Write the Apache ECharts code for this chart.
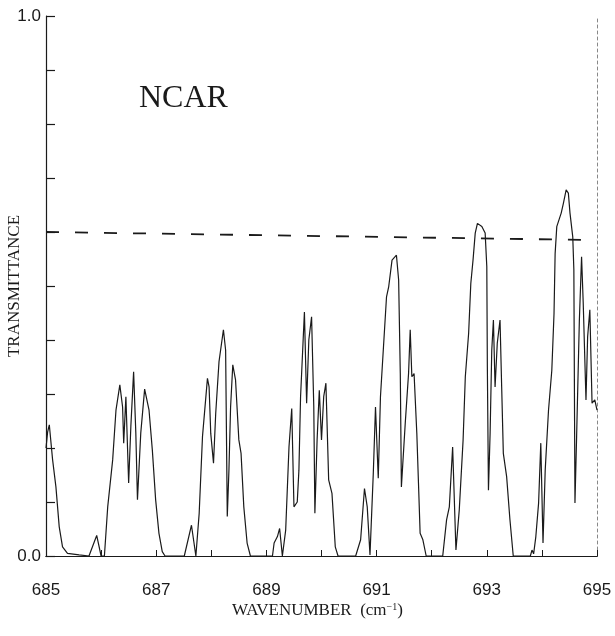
<!DOCTYPE html>
<html>
<head>
<meta charset="utf-8">
<script src="https://cdn.jsdelivr.net/npm/echarts@6/dist/echarts.min.js"></script>
<style>
  html, body { margin: 0; padding: 0; background: #fff; }
  #chart { width: 615px; height: 636px; }
</style>
</head>
<body>
<div id="chart"></div>
<script>
// wavenumber (cm-1) and transmittance
const wavenumber = [
  685.00, 685.03, 685.06, 685.12, 685.18, 685.24, 685.30, 685.39, 685.60, 685.78, 685.92, 686.00,
  686.06, 686.12, 686.21, 686.27, 686.34, 686.39, 686.41, 686.45, 686.50, 686.54, 686.59, 686.63,
  686.66, 686.72, 686.79, 686.87, 686.93, 686.99, 687.05, 687.11, 687.16, 687.51, 687.64, 687.72,
  687.74, 687.78, 687.84, 687.93, 687.96, 687.99, 688.04, 688.08, 688.14, 688.22, 688.26, 688.29,
  688.32, 688.35, 688.39, 688.44, 688.50, 688.54, 688.59, 688.65, 688.71, 689.11, 689.14, 689.20,
  689.24, 689.29, 689.35, 689.41, 689.46, 689.50, 689.56, 689.59, 689.62, 689.69, 689.73, 689.77,
  689.82, 689.86, 689.88, 689.92, 689.96, 690.00, 690.04, 690.08, 690.13, 690.19, 690.25, 690.30,
  690.62, 690.71, 690.78, 690.83, 690.88, 690.94, 690.98, 691.03, 691.07, 691.18, 691.22, 691.28,
  691.36, 691.40, 691.43, 691.45, 691.52, 691.58, 691.61, 691.64, 691.68, 691.73, 691.76, 691.79,
  691.84, 691.90, 692.20, 692.27, 692.32, 692.38, 692.44, 692.50, 692.57, 692.61, 692.67, 692.71,
  692.75, 692.79, 692.83, 692.91, 692.97, 693.00, 693.01, 693.03, 693.06, 693.09, 693.12, 693.15,
  693.19, 693.24, 693.27, 693.30, 693.36, 693.42, 693.48, 693.79, 693.82, 693.85, 693.89, 693.94,
  693.98, 694.02, 694.06, 694.12, 694.18, 694.22, 694.24, 694.27, 694.35, 694.39, 694.44, 694.48,
  694.51, 694.56, 694.58, 694.60, 694.63, 694.68, 694.72, 694.75, 694.80, 694.83, 694.87, 694.91,
  694.96, 695.00
];
const transmittance = [
  0.20, 0.23, 0.243, 0.178, 0.128, 0.054, 0.017, 0.005, 0.002, 0, 0.038, 0,
  0, 0.091, 0.178, 0.27, 0.317, 0.276, 0.209, 0.295, 0.135, 0.24, 0.341, 0.228,
  0.104, 0.228, 0.309, 0.27, 0.196, 0.104, 0.042, 0.008, 0, 0, 0.057, 0,
  0, 0.079, 0.221, 0.329, 0.313, 0.227, 0.172, 0.264, 0.36, 0.419, 0.381, 0.073,
  0.159, 0.276, 0.354, 0.326, 0.215, 0.19, 0.091, 0.024, 0, 0, 0.024, 0.036,
  0.051, 0, 0.048, 0.202, 0.273, 0.091, 0.10, 0.159, 0.295, 0.452, 0.283, 0.40,
  0.443, 0.276, 0.079, 0.215, 0.307, 0.215, 0.295, 0.32, 0.141, 0.116, 0.017, 0,
  0, 0.03, 0.125, 0.091, 0.002, 0.153, 0.276, 0.144, 0.295, 0.48, 0.499, 0.548,
  0.557, 0.511, 0.338, 0.128, 0.246, 0.338, 0.419, 0.332, 0.338, 0.227, 0.135, 0.042,
  0.03, 0, 0, 0.067, 0.091, 0.202, 0.011, 0.085, 0.215, 0.332, 0.412, 0.505,
  0.548, 0.598, 0.616, 0.61, 0.598, 0.536, 0.35, 0.122, 0.227, 0.381, 0.437, 0.313,
  0.394, 0.437, 0.313, 0.19, 0.147, 0.067, 0, 0, 0.011, 0.004, 0.036, 0.098,
  0.209, 0.024, 0.159, 0.27, 0.344, 0.449, 0.56, 0.61, 0.635, 0.653, 0.678, 0.672,
  0.635, 0.591, 0.53, 0.098, 0.221, 0.437, 0.554, 0.468, 0.289, 0.406, 0.456, 0.283,
  0.289, 0.27
];
// dashed reference level (drawn slightly tilted in the scan)
const refX = [685, 695];
const refY = [0.6, 0.585];

const ink = '#1a1a1a';
const serif = '"Liberation Serif", "DejaVu Serif", serif';
const sans = '"Liberation Sans", Arial, sans-serif';

const chart = echarts.init(document.getElementById('chart'));

chart.setOption({
  animation: false,
  backgroundColor: '#fff',
  grid: { left: 46, right: 18, top: 16, bottom: 80 },
  xAxis: [{
    type: 'value',
    min: 685,
    max: 695,
    interval: 1,
    axisLine: { show: true, lineStyle: { color: ink, width: 1.2 } },
    axisTick: { show: true, inside: true, length: 6, lineStyle: { color: ink } },
    axisLabel: {
      margin: 26,
      color: ink,
      fontFamily: sans,
      fontSize: 17,
      formatter: v => (Math.round(v) % 2 === 1 ? String(Math.round(v)) : '')
    },
    splitLine: { show: false }
  }, {
    type: 'value',
    position: 'top',
    min: 685,
    max: 695,
    axisLine: { show: true, lineStyle: { color: ink, width: 1.2 } },
    axisTick: { show: false },
    axisLabel: { show: false },
    splitLine: { show: false }
  }],
  yAxis: [{
    type: 'value',
    min: 0,
    max: 1,
    interval: 0.1,
    axisLine: { show: true, lineStyle: { color: ink, width: 1.2 } },
    axisTick: { show: true, inside: true, length: 9, lineStyle: { color: ink, width: 1.2 } },
    axisLabel: {
      margin: 5,
      color: ink,
      fontFamily: sans,
      fontSize: 17,
      formatter: v => (v === 0 || v === 1 ? v.toFixed(1) : '')
    },
    splitLine: { show: false }
  }, {
    type: 'value',
    position: 'right',
    min: 0,
    max: 1,
    axisLine: { show: true, lineStyle: { color: '#888', width: 1, type: [3, 3] } },
    axisTick: { show: false },
    axisLabel: { show: false },
    splitLine: { show: false }
  }],
  series: [{
    type: 'line',
    data: wavenumber.map((w, i) => [w, transmittance[i]]),
    showSymbol: false,
    lineStyle: { color: ink, width: 1.2 },
    z: 3
  }, {
    type: 'line',
    data: refX.map((w, i) => [w, refY[i]]),
    showSymbol: false,
    lineStyle: { color: ink, width: 1.8, type: [13, 16] },
    z: 2
  }],
  graphic: [{
    type: 'text',
    left: 139,
    top: 83,
    style: { text: 'NCAR', font: '32px ' + serif, fill: ink }
  }, {
    type: 'text',
    left: 232,
    top: 602,
    style: {
      text: 'WAVENUMBER  (cm{sup|−1})',
      font: '17px ' + serif,
      fill: ink,
      rich: { sup: { fontSize: 10, fontFamily: serif, verticalAlign: 'top', padding: [0, 0, 8, 0] } }
    }
  }, {
    type: 'text',
    x: 15,
    y: 286,
    rotation: Math.PI / 2,
    style: {
      text: 'TRANSMITTANCE',
      font: '17px ' + serif,
      fill: ink,
      align: 'center',
      verticalAlign: 'middle'
    }
  }]
});
</script>
</body>
</html>
